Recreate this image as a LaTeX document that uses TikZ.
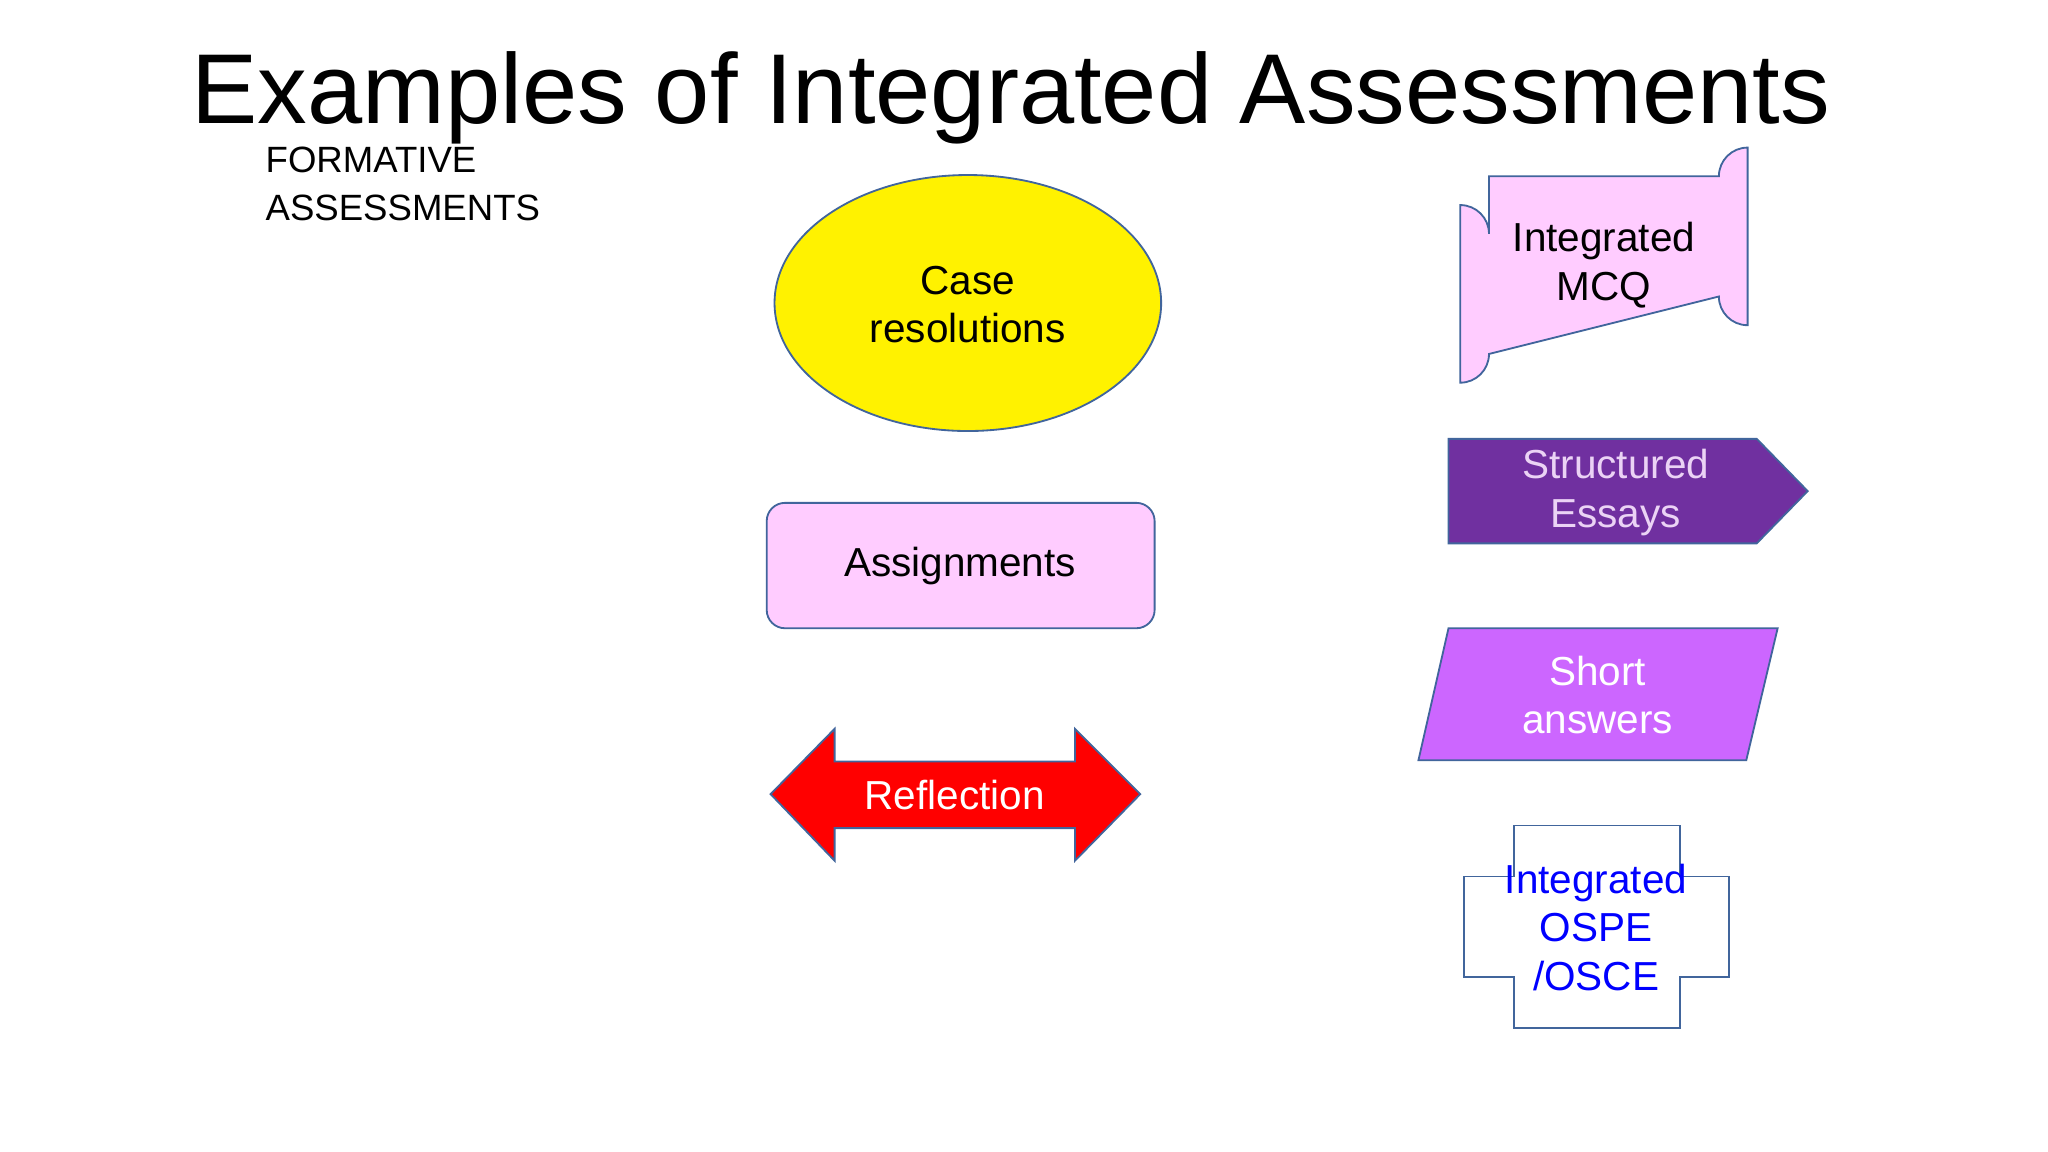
\documentclass[tikz,border=0pt]{standalone}
\usepackage{fontspec}
\setmainfont{Liberation Sans}
\usetikzlibrary{shapes.geometric}
\definecolor{edge}{HTML}{41659C}
\definecolor{lpink}{HTML}{FFCCFF}
\definecolor{purp}{HTML}{7030A0}
\definecolor{violet}{HTML}{CC66FF}
\definecolor{lav}{HTML}{EBD3F5}
\tikzset{shp/.style={draw=edge,line width=0.7pt},
 lbl/.style={align=center,font=\fontsize{15.5}{18.5}\selectfont}}
\begin{document}
\begin{tikzpicture}[x=0.5pt,y=-0.5pt]
\useasboundingbox (0,0) rectangle (1568,882);
\fill[white] (0,0) rectangle (1568,882);
\node[font=\fontsize{38}{44}\selectfont] (title) at (774,75) {Examples of Integrated Assessments};
\node[anchor=north west,align=left,inner sep=0,font=\fontsize{14}{18.3}\selectfont] (form) at (203,112) {FORMATIVE\\ASSESSMENTS};
% ellipse
\draw[shp,fill=yellow] (741,232) ellipse [x radius=148,y radius=98];
\node[lbl] (case) at (741,233) {Case\\resolutions};
% assignments
\draw[shp,fill=lpink,rounded corners=7pt] (587,385) rectangle (884,481);
\node[lbl] (assign) at (735,433) {Assignments};
% reflection
\draw[shp,fill=red] (590,608) -- (639,558) -- (639,583) -- (823,583) -- (823,558) -- (873,608) -- (823,659) -- (823,634) -- (639,634) -- (639,659) -- cycle;
\node[lbl,text=white] (refl) at (731,609) {Reflection};
% MCQ plaque
\draw[shp,fill=lpink] (1140,135) -- (1316,135) arc[start angle=180,end angle=270,radius=22] -- (1338,249) arc[start angle=90,end angle=180,radius=22] -- (1140,271) arc[start angle=0,end angle=90,radius=22] -- (1118,157) arc[start angle=270,end angle=360,radius=22] -- cycle;
\node[lbl] (mcq) at (1228,203) {Integrated\\MCQ};
% structured essays
\draw[shp,fill=purp] (1109,336) -- (1345,336) -- (1384,376) -- (1345,416) -- (1109,416) -- cycle;
\node[lbl,text=lav] (ess) at (1237,377) {Structured\\Essays};
% short answers
\draw[shp,fill=violet] (1109,481) -- (1361,481) -- (1337,582) -- (1086,582) -- cycle;
\node[lbl,text=white] (short) at (1223,532) {Short\\answers};
% cross
\draw[shp,fill=white] (1159,632) -- (1286,632) -- (1286,671) -- (1324,671) -- (1324,748) -- (1286,748) -- (1286,787) -- (1159,787) -- (1159,748) -- (1121,748) -- (1121,671) -- (1159,671) -- cycle;
\node[lbl,text=blue] (ospe) at (1222,710) {Integrated\\OSPE\\/OSCE};
\end{tikzpicture}
\end{document}
